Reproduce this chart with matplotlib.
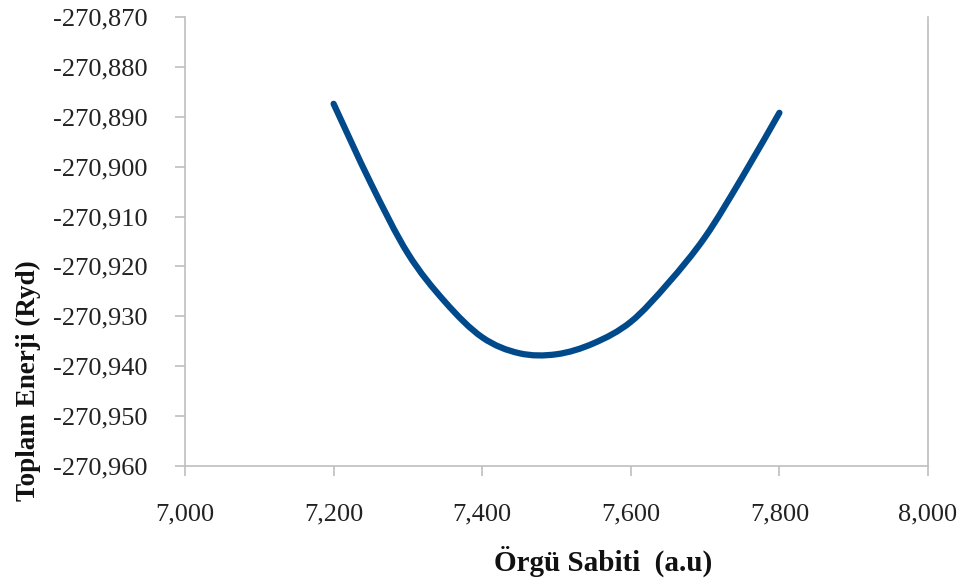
import matplotlib
matplotlib.use("Agg")
import matplotlib.pyplot as plt
from matplotlib.path import Path
from matplotlib.patches import PathPatch
from matplotlib.ticker import FuncFormatter, MultipleLocator

# Lattice constant (a.u) vs total energy (Ryd)
lattice = [7.20, 7.25, 7.30, 7.35, 7.40, 7.45, 7.50, 7.55, 7.60, 7.65, 7.70, 7.75, 7.80]
energy = [-270.8874, -270.9033, -270.9174, -270.9271, -270.9342, -270.9374, -270.9376,
          -270.9354, -270.9311, -270.9234, -270.9141, -270.9021, -270.8892]

x_label = "Örgü Sabiti  (a.u)"
y_label = "Toplam Enerji (Ryd)"


def smooth_path(xs, ys):
    """Excel-like smoothed line: Catmull-Rom segments as cubic Bezier curves."""
    verts = [(xs[0], ys[0])]
    codes = [Path.MOVETO]
    n = len(xs)
    for i in range(n - 1):
        x0, y0 = (xs[i - 1], ys[i - 1]) if i > 0 else (xs[i], ys[i])
        x1, y1 = xs[i], ys[i]
        x2, y2 = xs[i + 1], ys[i + 1]
        x3, y3 = (xs[i + 2], ys[i + 2]) if i + 2 < n else (x2, y2)
        c1 = (x1 + (x2 - x0) / 6, y1 + (y2 - y0) / 6)
        c2 = (x2 - (x3 - x1) / 6, y2 - (y3 - y1) / 6)
        verts += [c1, c2, (x2, y2)]
        codes += [Path.CURVE4] * 3
    return Path(verts, codes)


plt.rcParams['font.family'] = ['Liberation Serif', 'DejaVu Serif']

fig = plt.figure(figsize=(9.69, 5.86), dpi=100, facecolor='white')
ax = fig.add_axes([185 / 969, 120 / 586, (928 - 185) / 969, (466 - 17) / 586])

ax.add_patch(PathPatch(smooth_path(lattice, energy), facecolor='none', edgecolor='#004A8C',
                       linewidth=4.5, capstyle='round', joinstyle='round'))

ax.set_xlim(7.0, 8.0)
ax.set_ylim(-270.960, -270.870)
ax.xaxis.set_major_locator(MultipleLocator(0.2))
ax.yaxis.set_major_locator(MultipleLocator(0.01))

ax.xaxis.set_major_formatter(FuncFormatter(lambda v, p: f"{v:.3f}".replace('.', ',')))
ax.yaxis.set_major_formatter(FuncFormatter(lambda v, p: f"{v:.3f}".replace('.', ',')))

for side in ['left', 'bottom', 'right']:
    ax.spines[side].set_color('#BFBFBF')
    ax.spines[side].set_linewidth(1.2)
ax.spines['top'].set_visible(False)

ax.tick_params(axis='both', colors='#BFBFBF', labelcolor='#222222', length=7, width=1.2,
               labelsize=19, direction='out')
ax.tick_params(axis='y', pad=20)
ax.tick_params(axis='x', pad=20)

fig.text(28 / 969, 1 - 381 / 586, y_label, rotation=90, ha='center', va='center',
         fontsize=19.5, fontweight='bold', color='#111111')
fig.text(603 / 969, 1 - 561 / 586, x_label, ha='center', va='center',
         fontsize=21, fontweight='bold', color='#111111')

fig.savefig("out.png", dpi=100, facecolor='white')
